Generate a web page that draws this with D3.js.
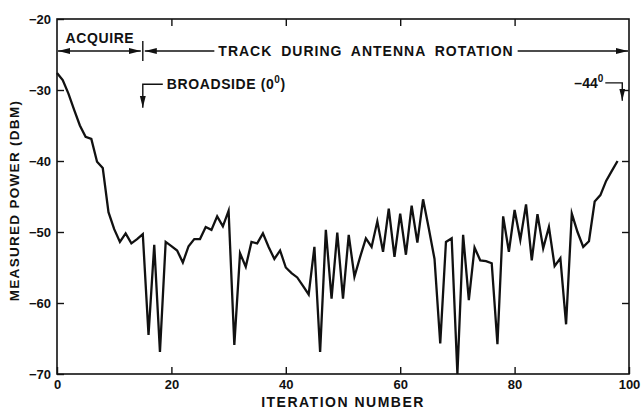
<!DOCTYPE html>
<html>
<head>
<meta charset="utf-8">
<script src="https://cdn.jsdelivr.net/npm/d3@7"></script>
<style>
  html, body { margin: 0; padding: 0; background: #fff; }
  svg { display: block; font-family: "Liberation Sans", Arial, sans-serif; font-weight: bold; }
</style>
</head>
<body>
<svg id="chart"></svg>
<script>
// measured power (dBm) for iteration 0, 1, 2 ... 98
const power = [
  -27.6, -28.6, -30.5, -32.8, -35.0, -36.6, -36.9, -40.1, -41.0, -47.2,
  -49.6, -51.4, -50.2, -51.6, -51.0, -50.3, -64.5, -51.8, -66.9, -51.4,
  -52.0, -52.6, -54.3, -52.0, -51.0, -51.0, -49.3, -49.7, -47.8, -49.2,
  -47.0, -65.9, -53.0, -54.9, -51.4, -51.6, -50.2, -52.1, -53.8, -52.6,
  -55.0, -55.8, -56.4, -57.6, -58.8, -52.1, -66.9, -49.7, -59.4, -50.1,
  -59.4, -50.4, -56.3, -53.5, -50.9, -52.1, -48.5, -52.8, -46.7, -53.5,
  -47.4, -53.2, -46.3, -51.5, -45.4, -49.5, -53.8, -65.7, -51.4, -50.9,
  -70.0, -50.4, -59.6, -52.2, -54.0, -54.1, -54.4, -65.8, -47.8, -52.8,
  -46.9, -51.1, -46.1, -54.0, -47.5, -52.3, -49.3, -54.8, -53.7, -63.0,
  -47.4, -50.0, -52.1, -51.3, -45.7, -44.8, -42.8, -41.4, -40.0
];

// 坐标轴刻度
const xTicks = [0, 20, 40, 60, 80, 100];
const yTicks = [-20, -30, -40, -50, -60, -70];
const xInnerTicks = [20, 40, 60, 80];
const yInnerTicks = [-30, -40, -50, -60];

// 注释
const acquireEnd = 15;      // tracking starts here
const endMark = 99;         // -44 degree position
const labels = {
  acquire: "ACQUIRE",
  track: "TRACK DURING ANTENNA ROTATION",
  broadside: "BROADSIDE (0",
  endAngle: "\u201344",
  degree: "0",
  xTitle: "ITERATION NUMBER",
  yTitle: "MEASURED POWER (DBM)"
};

const width = 641;
const height = 410;
const marginTop = 19;
const marginRight = 12;
const marginBottom = 36;
const marginLeft = 57;

const x = d3.scaleLinear()
    .domain([0, 100])
    .range([marginLeft, width - marginRight]);

const y = d3.scaleLinear()
    .domain([-70, -20])
    .range([height - marginBottom, marginTop]);

const svg = d3.select("#chart")
    .attr("width", width)
    .attr("height", height)
    .attr("viewBox", `0 0 ${width} ${height}`);

// 箭头
const defs = svg.append("defs");
defs.append("marker")
    .attr("id", "arrow")
    .attr("viewBox", "0 0 12 8")
    .attr("refX", 12)
    .attr("refY", 4)
    .attr("markerWidth", 12)
    .attr("markerHeight", 8)
    .attr("markerUnits", "userSpaceOnUse")
    .attr("orient", "auto-start-reverse")
  .append("path")
    .attr("d", "M0,1L12,4L0,7Z")
    .attr("fill", "#111");

// 外框
svg.append("rect")
    .attr("x", marginLeft)
    .attr("y", marginTop)
    .attr("width", width - marginLeft - marginRight)
    .attr("height", height - marginTop - marginBottom)
    .attr("fill", "none")
    .attr("stroke", "#111")
    .attr("stroke-width", 1.6);

// 左轴
svg.append("g")
    .attr("transform", `translate(${marginLeft},0)`)
    .call(d3.axisLeft(y).tickValues(yTicks).tickSize(-7).tickSizeOuter(0).tickPadding(6))
    .call(g => g.select(".domain").remove())
    .call(g => g.selectAll("line").attr("stroke", "#111").attr("stroke-width", 1.4))
    .call(g => g.selectAll("text").attr("font-size", 13).attr("fill", "#111")
        .attr("font-family", "Liberation Sans, Arial, sans-serif").attr("font-weight", "bold"));

// 下轴
svg.append("g")
    .attr("transform", `translate(0,${height - marginBottom})`)
    .call(d3.axisBottom(x).tickValues(xTicks).tickSize(-7).tickSizeOuter(0).tickPadding(6))
    .call(g => g.select(".domain").remove())
    .call(g => g.selectAll("line").attr("stroke", "#111").attr("stroke-width", 1.4))
    .call(g => g.selectAll("text").attr("font-size", 13).attr("fill", "#111")
        .attr("font-family", "Liberation Sans, Arial, sans-serif").attr("font-weight", "bold"));

// 右轴和上轴只有刻度
svg.append("g")
    .attr("transform", `translate(${width - marginRight},0)`)
    .call(d3.axisRight(y).tickValues(yInnerTicks).tickSize(-7).tickSizeOuter(0).tickFormat(""))
    .call(g => g.select(".domain").remove())
    .call(g => g.selectAll("line").attr("stroke", "#111").attr("stroke-width", 1.4));

svg.append("g")
    .attr("transform", `translate(0,${marginTop})`)
    .call(d3.axisTop(x).tickValues(xInnerTicks).tickSize(-7).tickSizeOuter(0).tickFormat(""))
    .call(g => g.select(".domain").remove())
    .call(g => g.selectAll("line").attr("stroke", "#111").attr("stroke-width", 1.4));

// 轴标题
svg.append("text")
    .attr("x", (marginLeft + width - marginRight) / 2)
    .attr("y", height - 3)
    .attr("text-anchor", "middle")
    .attr("font-size", 14)
    .attr("letter-spacing", 1.5)
    .attr("fill", "#111")
    .text(labels.xTitle);

svg.append("text")
    .attr("transform", `translate(19,${(marginTop + height - marginBottom) / 2 + 4}) rotate(-90)`)
    .attr("text-anchor", "middle")
    .attr("font-size", 13.5)
    .attr("letter-spacing", 1.3)
    .attr("fill", "#111")
    .text(labels.yTitle);

// 数据折线
const line = d3.line()
    .x((d, i) => x(i))
    .y(d => y(d));

svg.append("path")
    .datum(power)
    .attr("fill", "none")
    .attr("stroke", "#111")
    .attr("stroke-width", 2.3)
    .attr("stroke-linejoin", "miter")
    .attr("stroke-miterlimit", 6)
    .attr("d", line);

// ACQUIRE / TRACK 箭头
const arrowY = y(-24.5);
const xSplit = x(acquireEnd);

svg.append("line")
    .attr("x1", xSplit).attr("x2", xSplit)
    .attr("y1", arrowY - 10).attr("y2", arrowY + 10)
    .attr("stroke", "#111").attr("stroke-width", 1.4);

svg.append("line")
    .attr("x1", x(0) + 1).attr("x2", xSplit - 2)
    .attr("y1", arrowY).attr("y2", arrowY)
    .attr("stroke", "#111").attr("stroke-width", 1.4)
    .attr("marker-start", "url(#arrow)")
    .attr("marker-end", "url(#arrow)");

svg.append("text")
    .attr("x", (x(0) + xSplit) / 2)
    .attr("y", arrowY - 8)
    .attr("text-anchor", "middle")
    .attr("font-size", 14)
    .attr("letter-spacing", 0.6)
    .attr("fill", "#111")
    .text(labels.acquire);

const trackText = svg.append("text")
    .attr("x", 366)
    .attr("y", arrowY + 5)
    .attr("text-anchor", "middle")
    .attr("font-size", 14)
    .attr("letter-spacing", 1)
    .attr("word-spacing", 4)
    .attr("fill", "#111")
    .text(labels.track);

const tb = trackText.node().getBBox();

svg.append("line")
    .attr("x1", xSplit + 2).attr("x2", tb.x - 4)
    .attr("y1", arrowY).attr("y2", arrowY)
    .attr("stroke", "#111").attr("stroke-width", 1.4)
    .attr("marker-start", "url(#arrow)");

svg.append("line")
    .attr("x1", tb.x + tb.width + 4).attr("x2", x(100) - 1)
    .attr("y1", arrowY).attr("y2", arrowY)
    .attr("stroke", "#111").attr("stroke-width", 1.4)
    .attr("marker-end", "url(#arrow)");

// BROADSIDE 标记
const bsY = y(-29.2);
svg.append("path")
    .attr("d", `M${xSplit + 20},${bsY}H${xSplit}V${y(-32.5)}`)
    .attr("fill", "none")
    .attr("stroke", "#111").attr("stroke-width", 1.4)
    .attr("marker-end", "url(#arrow)");

const bs = svg.append("text")
    .attr("x", xSplit + 24)
    .attr("y", bsY + 5)
    .attr("font-size", 14)
    .attr("letter-spacing", 0.6)
    .attr("fill", "#111");
bs.append("tspan").text(labels.broadside);
bs.append("tspan").attr("dy", -6).attr("font-size", 10).text(labels.degree);
bs.append("tspan").attr("dy", 6).text(")");

// -44 度标记
const endX = x(endMark) - 1;
const endY = y(-29.0);
svg.append("path")
    .attr("d", `M${endX - 17},${endY}H${endX}V${y(-31.5)}`)
    .attr("fill", "none")
    .attr("stroke", "#111").attr("stroke-width", 1.4)
    .attr("marker-end", "url(#arrow)");

const ea = svg.append("text")
    .attr("x", endX - 19)
    .attr("y", endY + 5)
    .attr("text-anchor", "end")
    .attr("font-size", 14)
    .attr("fill", "#111");
ea.append("tspan").text(labels.endAngle);
ea.append("tspan").attr("dy", -6).attr("font-size", 10).text(labels.degree);
</script>
</body>
</html>
